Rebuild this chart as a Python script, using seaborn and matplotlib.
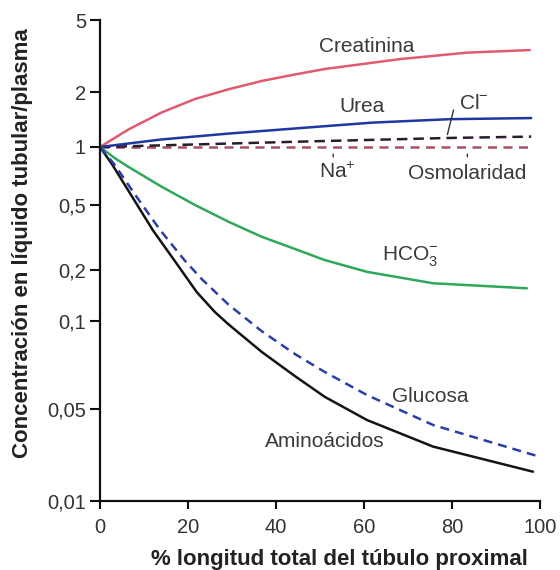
import numpy as np
import pandas as pd
import matplotlib
matplotlib.use("Agg")
import matplotlib.pyplot as plt
from matplotlib.ticker import NullLocator
import seaborn as sns

# values (x = % of proximal tubule length, y = TF/P ratio)
x_creat = [0, 6.4, 14.0, 21.6, 29.2, 36.7, 44.3, 51.1, 68.2, 83.4, 97.7]
y_creat = [1.0, 1.245, 1.545, 1.831, 2.07, 2.30, 2.50, 2.68, 3.04, 3.30, 3.41]

x_urea = [0, 14.0, 29.2, 51.1, 62.0, 79.5, 98.0]
y_urea = [1.0, 1.10, 1.184, 1.30, 1.36, 1.42, 1.44]

x_cl = [0, 45.5, 78.8, 98.0]
y_cl = [1.0, 1.07, 1.12, 1.14]

x_osm = [0, 98.0]
y_osm = [1.0, 1.0]

x_hco3 = [0, 3.4, 6.4, 14.0, 21.6, 29.2, 36.7, 44.3, 51.1, 60.7, 75.7, 97.0]
y_hco3 = [1.0, 0.874, 0.79, 0.622, 0.5, 0.395, 0.32, 0.269, 0.230, 0.195, 0.167, 0.156]

x_gluc = [0, 3.2, 8.3, 13.6, 19.3, 23.2, 29.2, 36.7, 44.3, 51.1, 60.7, 75.7, 99.3]
y_gluc = [1.0, 0.816, 0.552, 0.353, 0.228, 0.176, 0.125, 0.0924, 0.0771, 0.0669, 0.0558, 0.0378, 0.022]

x_amino = [0, 2.7, 7.3, 12.0, 17.0, 22.0, 26.1, 29.1, 36.8, 44.3, 51.1, 60.7, 75.7, 98.4]
y_amino = [1.0, 0.816, 0.552, 0.351, 0.227, 0.148, 0.113, 0.0977, 0.0783, 0.0648, 0.055, 0.0412, 0.0259, 0.0167]

ytick_vals = [0.01, 0.05, 0.1, 0.2, 0.5, 1, 2, 5]
ytick_labels = ["0,01", "0,05", "0,1", "0,2", "0,5", "1", "2", "5"]
xtick_vals = [0, 20, 40, 60, 80, 100]

# the printed axis is not a clean log axis: map log10(value) to where the ticks sit
LOGS = np.log10(ytick_vals)
POS = np.array([0, 92, 180, 231, 296, 354, 409, 481], dtype=float)
s0 = (POS[1] - POS[0]) / (LOGS[1] - LOGS[0])
s1 = (POS[-1] - POS[-2]) / (LOGS[-1] - LOGS[-2])


def fwd(v):
    lv = np.log10(np.clip(np.asarray(v, dtype=float), 1e-9, None))
    out = np.interp(lv, LOGS, POS)
    out = np.where(lv < LOGS[0], POS[0] + (lv - LOGS[0]) * s0, out)
    out = np.where(lv > LOGS[-1], POS[-1] + (lv - LOGS[-1]) * s1, out)
    return out


def inv(p):
    p = np.asarray(p, dtype=float)
    lv = np.interp(p, POS, LOGS)
    lv = np.where(p < POS[0], LOGS[0] + (p - POS[0]) / s0, lv)
    lv = np.where(p > POS[-1], LOGS[-1] + (p - POS[-1]) / s1, lv)
    return 10 ** lv


sns.set_theme(style="white")
plt.rcParams["font.family"] = ["Liberation Sans", "DejaVu Sans"]
plt.rcParams["mathtext.fontset"] = "custom"
plt.rcParams["mathtext.rm"] = "Liberation Sans"

fig = plt.figure(figsize=(5.6, 5.7), dpi=100)
ax = fig.add_axes([100 / 560, 1 - 501 / 570, 440 / 560, 481 / 570])
ax.set_yscale("function", functions=(fwd, inv))

lw = 1.8
sns.lineplot(x=x_osm, y=y_osm, ax=ax, color="#a65262", lw=lw, linestyle=(0, (3.6, 2.6)))
sns.lineplot(x=x_cl, y=y_cl, ax=ax, color="#2a1c2c", lw=lw, linestyle=(0, (4.2, 2.4)))
sns.lineplot(x=x_creat, y=y_creat, ax=ax, color="#e05a70", lw=lw)
sns.lineplot(x=x_urea, y=y_urea, ax=ax, color="#1f38a0", lw=lw)
sns.lineplot(x=x_hco3, y=y_hco3, ax=ax, color="#2fa85a", lw=lw)
sns.lineplot(x=x_amino, y=y_amino, ax=ax, color="#141414", lw=lw)
sns.lineplot(x=x_gluc, y=y_gluc, ax=ax, color="#2b3fa8", lw=lw, linestyle=(0, (3.6, 2.4)))

ax.set_xlim(0, 100)
ax.set_ylim(0.01, 5)
ax.set_xticks(xtick_vals)
ax.set_yticks(ytick_vals)
ax.set_yticklabels(ytick_labels)
ax.yaxis.set_minor_locator(NullLocator())
ax.xaxis.set_minor_locator(NullLocator())

for side in ["top", "right"]:
    ax.spines[side].set_visible(False)
for side in ["left", "bottom"]:
    ax.spines[side].set_color("#111111")
    ax.spines[side].set_linewidth(1.6)

ax.tick_params(axis="y", direction="out", length=7, width=1.5, color="#111111",
               pad=3, labelsize=14.5, labelcolor="#333333", left=True)
ax.tick_params(axis="x", direction="out", length=6, width=1.5, color="#111111",
               pad=6, labelsize=14.5, labelcolor="#333333", bottom=True)

txt = dict(fontsize=15, color="#3a3a3a", ha="center", va="center")
ax.text(60.7, 3.59, "Creatinina", **txt)
ax.text(59.5, 1.66, "Urea", **txt)
ax.text(85.0, 1.74, r"Cl$^{\mathregular{-}}$", **txt)
ax.text(53.9, 0.745, r"Na$^{\mathregular{+}}$", **txt)
ax.text(83.5, 0.73, "Osmolaridad", **txt)
ax.text(70.5, 0.245, r"HCO$_{\mathregular{3}}^{\mathregular{-}}$", **txt)
ax.text(75.0, 0.055, "Glucosa", **txt)
ax.text(51.1, 0.0281, "Aminoácidos", **txt)

lead = dict(arrowstyle="-", color="#333333", lw=1.0)
ax.annotate("", xy=(78.8, 1.13), xytext=(80.5, 1.65), arrowprops=lead)
ax.annotate("", xy=(53.0, 0.95), xytext=(53.0, 0.86), arrowprops=lead)
ax.annotate("", xy=(83.5, 0.95), xytext=(83.5, 0.86), arrowprops=lead)

ax.set_xlabel("% longitud total del túbulo proximal", fontsize=16, fontweight="bold", color="#222222")
ax.set_ylabel("Concentración en líquido tubular/plasma", fontsize=16, fontweight="bold", color="#222222")
ax.xaxis.set_label_coords(0.545, -0.1)
ax.yaxis.set_label_coords(-0.152, 0.537)

fig.savefig("out.png", dpi=100, facecolor="white")
